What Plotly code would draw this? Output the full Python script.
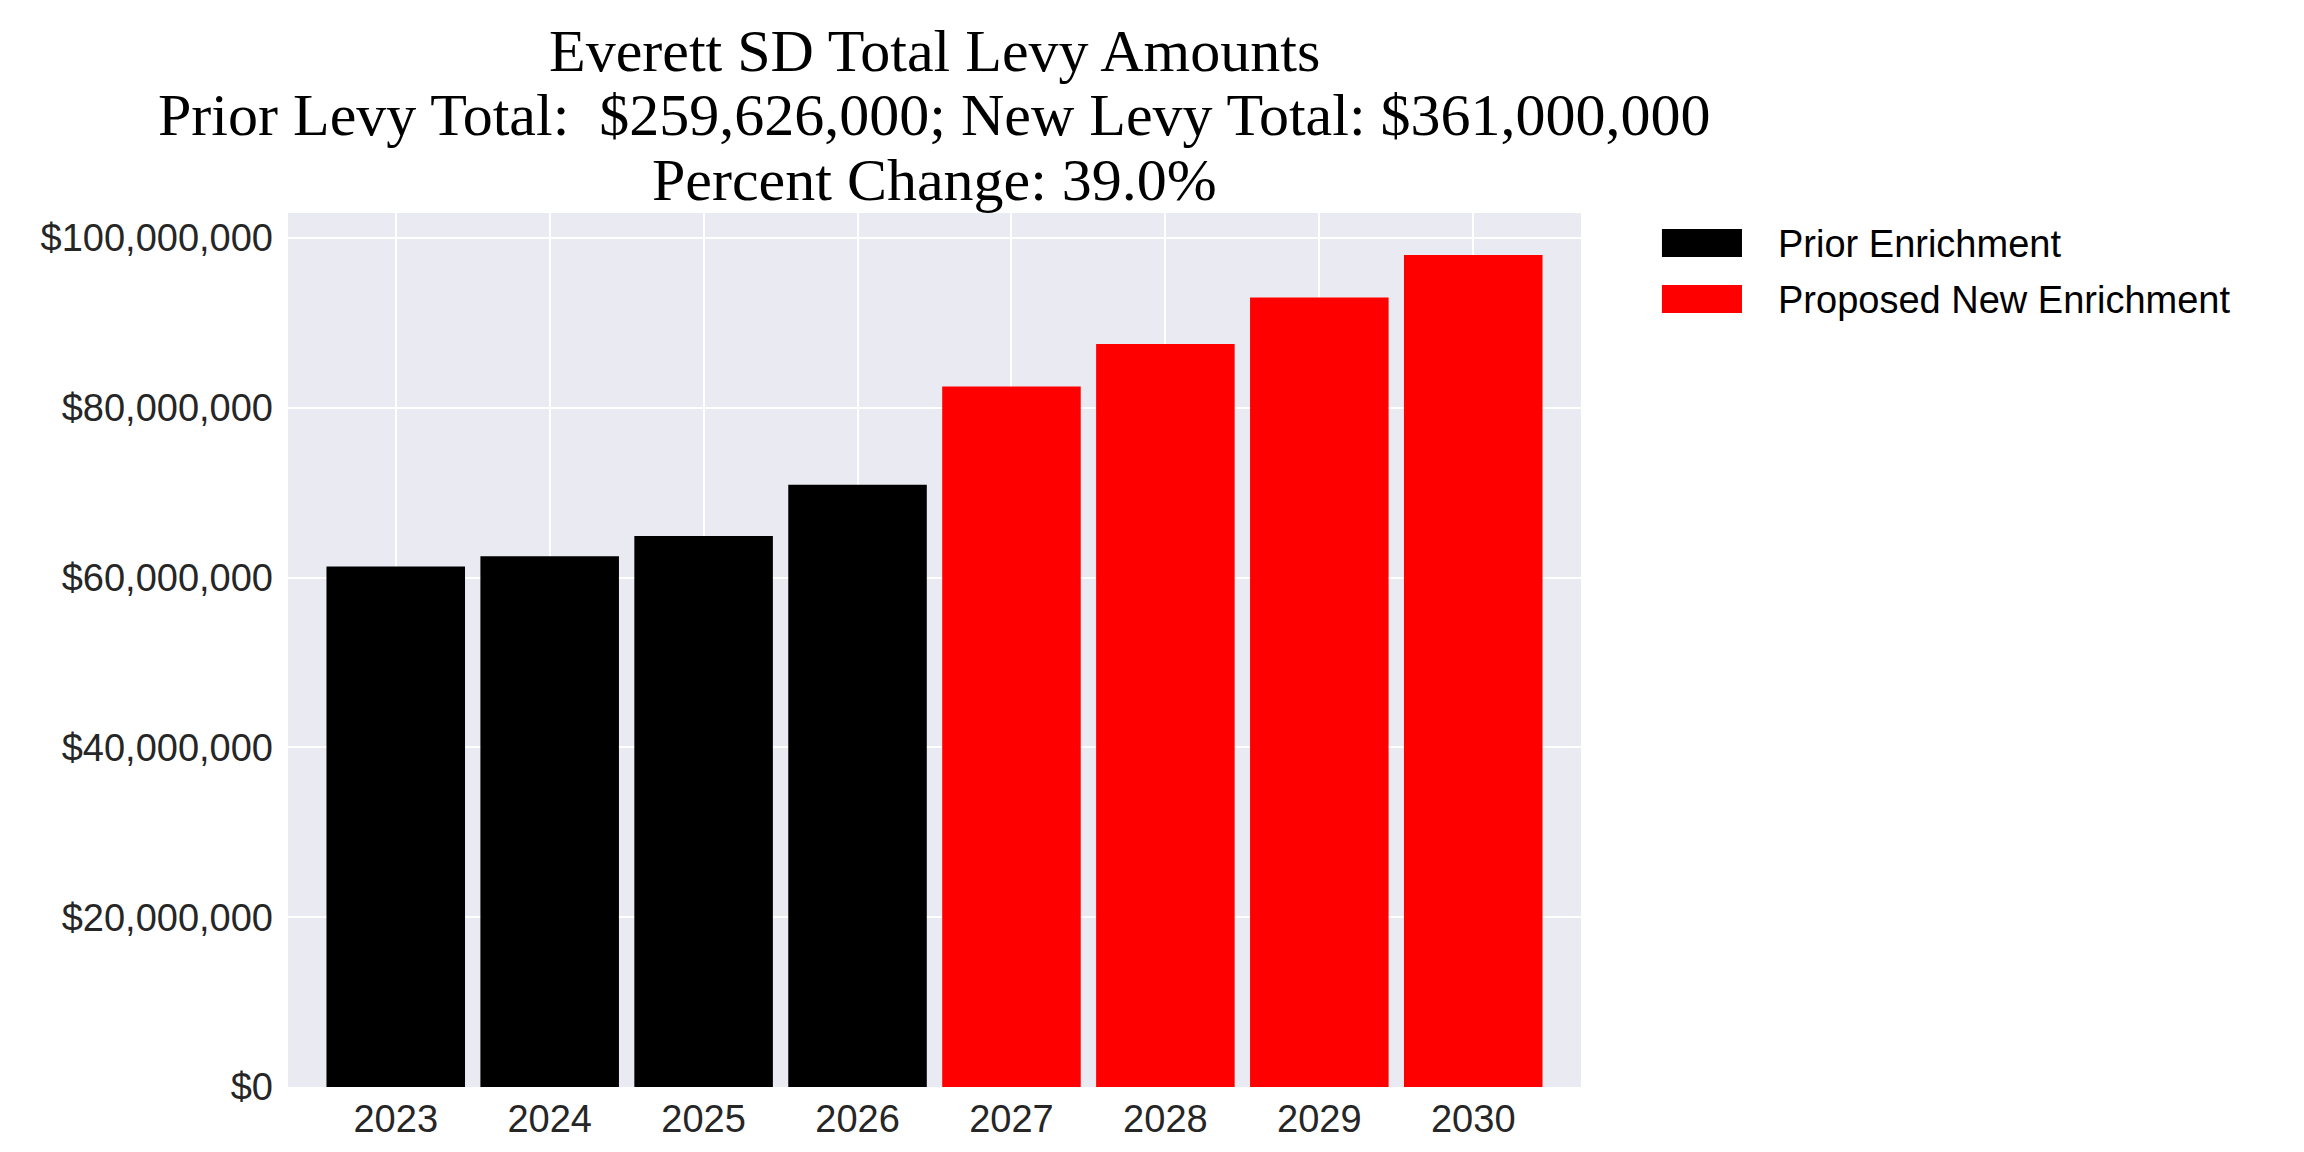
import plotly.graph_objects as go

years = ["2023", "2024", "2025", "2026", "2027", "2028", "2029", "2030"]
prior_years = years[:4]
new_years = years[4:]
prior_values = [61300000, 62500000, 64900000, 70926000]
new_values = [82500000, 87500000, 93000000, 98000000]

prior_total = sum(prior_values)
new_total = sum(new_values)
pct_change = (new_total - prior_total) / prior_total * 100

legend_labels = ["Prior Enrichment", "Proposed New Enrichment"]
bar_colors = ["#000000", "#FF0000"]

title_lines = [
    "Everett SD Total Levy Amounts",
    f"Prior Levy Total:  ${prior_total:,}; New Levy Total: ${new_total:,}",
    f"Percent Change: {pct_change:.1f}%",
]

fig = go.Figure()
fig.add_trace(go.Bar(x=prior_years, y=prior_values, name=legend_labels[0],
                     marker=dict(color=bar_colors[0], line=dict(width=0)),
                     showlegend=False))
fig.add_trace(go.Bar(x=new_years, y=new_values, name=legend_labels[1],
                     marker=dict(color=bar_colors[1], line=dict(width=0)),
                     showlegend=False))

# title: three lines set as annotations to get matplotlib's tight line spacing
for i, line in enumerate(title_lines):
    fig.add_annotation(x=0.5, y=1.1854 - i * 0.0738, xref="paper", yref="paper",
                       text=line, showarrow=False, xanchor="center", yanchor="middle",
                       font=dict(family="Liberation Serif, Times New Roman", size=60,
                                 color="#000000"))

# legend drawn by hand so the patches match the matplotlib look
for i, (label, color) in enumerate(zip(legend_labels, bar_colors)):
    fig.add_shape(type="rect", xref="paper", yref="paper",
                  x0=1.0626, x1=1.1245, y0=0.9497 - i * 0.0641, y1=0.9817 - i * 0.0641,
                  fillcolor=color, line=dict(width=0))
    fig.add_annotation(x=1.1508, y=0.964 - i * 0.0641, xref="paper", yref="paper",
                       text=label, showarrow=False, xanchor="left", yanchor="middle",
                       font=dict(family="Liberation Sans, Arial", size=38, color="#000000"))

fig.update_layout(
    width=2304, height=1152,
    margin=dict(l=280, r=731, t=205, b=73),
    plot_bgcolor="#EAEAF2", paper_bgcolor="white",
    bargap=0.1,
    font=dict(family="Liberation Sans, Arial", size=38, color="#262626"),
)
fig.update_xaxes(type="category", showgrid=True, gridcolor="white", gridwidth=2,
                 range=[-0.7, 7.7], ticks="", showline=False, zeroline=False,
                 tickfont=dict(size=38, color="#262626"), ticklabelstandoff=6)
fig.update_yaxes(range=[0, 102940000], dtick=20000000, tickformat="$,.0f",
                 showgrid=True, gridcolor="white", gridwidth=2, zeroline=False,
                 ticks="", showline=False, tickfont=dict(size=38, color="#262626"),
                 ticklabelstandoff=14)

fig.write_html("out.html")
